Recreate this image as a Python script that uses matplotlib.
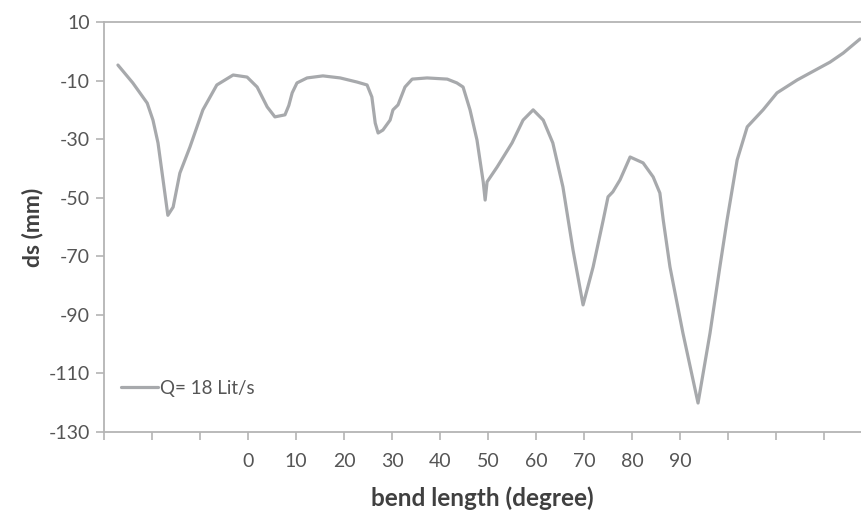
import numpy as np
import matplotlib.pyplot as plt

# bend length (degree) and scour depth ds (mm)
bend = [-27.1, -24.0, -21.0, -19.8, -18.75, -17.7, -16.7, -15.6, -14.2, -12.1,
        -9.4, -6.5, -3.1, -0.2, 1.9, 4.0, 5.6, 7.7, 8.5, 9.2,
        10.2, 12.3, 15.6, 19.2, 22.7, 24.8, 25.8, 26.5, 27.1, 28.1,
        29.6, 30.2, 31.25, 32.7, 34.2, 37.3, 41.5, 43.5, 44.8, 46.25,
        47.7, 49.0, 49.4, 49.8, 51.9, 55.0, 57.3, 59.4, 61.5, 63.5,
        65.6, 67.7, 69.8, 71.9, 74.0, 75.0, 76.0, 77.5, 79.6, 82.3,
        84.4, 85.8, 86.5, 87.9, 90.6, 93.75, 96.25, 98.3, 99.8, 101.9,
        104.0, 107.3, 110.2, 114.4, 121.25, 124.0, 127.5]
ds = [-4.7, -10.8, -17.7, -23.5, -31.3, -43.9, -56.0, -53.2, -41.6, -32.7,
      -20.0, -11.5, -8.1, -8.8, -12.2, -19.0, -22.4, -21.7, -18.5, -14.2,
      -10.8, -9.1, -8.4, -9.1, -10.5, -11.5, -15.6, -24.5, -27.9, -26.9,
      -23.5, -20.0, -18.3, -12.2, -9.5, -9.1, -9.5, -10.8, -12.2, -20.0,
      -30.3, -44.6, -50.8, -44.6, -39.5, -31.3, -23.5, -20.0, -23.5, -31.3,
      -46.3, -67.8, -86.6, -73.6, -57.6, -49.7, -48.0, -43.9, -36.1, -38.1,
      -42.9, -48.4, -57.6, -73.6, -96.2, -120.1, -96.2, -73.6, -57.6, -37.1,
      -25.8, -20.0, -14.2, -9.8, -3.7, -0.6, 4.2]

xticks = np.arange(-30, 121, 10)
xlabels = [str(t) if 0 <= t <= 90 else '' for t in xticks]
yticks = np.arange(10, -131, -20)

plt.rcParams['font.family'] = ['Lato', 'DejaVu Sans']
plt.rcParams['axes.unicode_minus'] = False

fig = plt.figure(figsize=(8.61, 5.2), dpi=100)
ax = fig.add_axes([0.1208, 0.1692, 0.8792, 0.7885])

ax.plot(bend, ds, color='#a7a9ac', lw=2.3, solid_joinstyle='round',
        solid_capstyle='round', label='Q= 18 Lit/s')

ax.set_xlim(-30, 127.7)
ax.set_ylim(-130, 10)
ax.set_xticks(xticks)
ax.set_xticklabels(xlabels)
ax.set_yticks(yticks)

spine_c = '#b4b4b4'
for s in ['left', 'bottom', 'top']:
    ax.spines[s].set_color(spine_c)
    ax.spines[s].set_linewidth(1.3)
ax.spines['right'].set_visible(False)
ax.tick_params(axis='both', direction='out', length=6, width=1.2,
               color=spine_c, labelcolor='#555555', labelsize=14)
ax.tick_params(axis='x', pad=9)
ax.tick_params(axis='y', pad=4)

ax.set_xlabel('bend length (degree)', fontsize=17.5, fontweight='bold',
              color='#404040', labelpad=12)
ax.set_ylabel('ds (mm)', fontsize=16.5, fontweight='bold', color='#404040',
              labelpad=4)

leg = ax.legend(loc='lower left', bbox_to_anchor=(0.0, 0.045), frameon=False,
                fontsize=13.5, handlelength=2.0, handletextpad=0.1,
                labelcolor='#555555')

plt.savefig('out.png', dpi=100)
